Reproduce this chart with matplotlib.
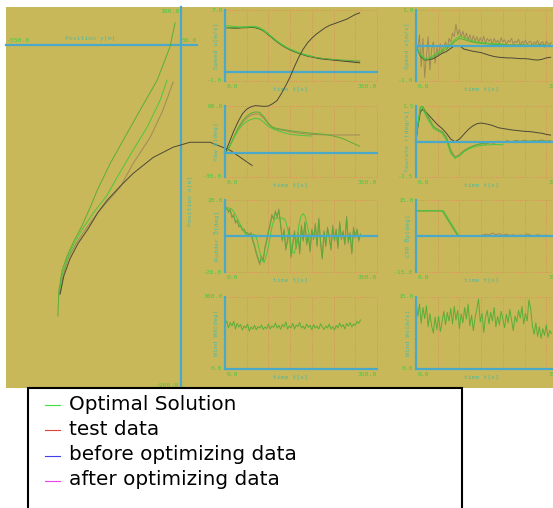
import matplotlib.pyplot as plt
from matplotlib.patches import Rectangle
from matplotlib.lines import Line2D

BG = '#C8B85A'
TEAL = '#4AA8C8'
GRID = '#E0885A'
NUM = '#46C846'
LAB = '#52B8A0'
C_OPT = '#4CC640'
C_TEST = '#A08A58'
C_BEFORE = '#4C4838'
C_AFTER = '#5AAE38'

# trajectory, Position y[m] (horizontal) / Position x[m] (vertical)
traj_opt_y = [-384, -374, -358, -336, -311, -270, -233, -201, -151, -107, -66, -44]
traj_opt_x = [-658, -605, -561, -521, -484, -434, -395, -347, -276, -216, -145, -92]
traj_after_y = [-387, -384, -374, -358, -336, -311, -283, -264, -223, -182, -129, -75, -35, -19]
traj_after_x = [-711, -645, -592, -553, -513, -474, -421, -382, -311, -250, -171, -92, -5, 58]
traj_test_y = [-380, -371, -355, -330, -299, -261, -223, -192, -151, -97, -57, -25]
traj_test_x = [-653, -605, -561, -521, -482, -439, -403, -374, -311, -242, -171, -97]
traj_before_y = [-380, -368, -349, -324, -292, -261, -233, -192, -151, -88, -25, 28, 91, 154, 223]
traj_before_x = [-653, -605, -561, -521, -482, -439, -408, -371, -337, -295, -268, -255, -255, -276, -316]

t10 = list(range(0, 320, 10))
t10_opt = list(range(0, 210, 10))
t4 = list(range(0, 316, 4))

# speed u [m/s]
u_opt = [5.25, 5.2, 5.15, 5.1, 5.1, 5.1, 5.15, 5.15, 5.0, 4.7, 4.3, 3.9, 3.5, 3.15, 2.85, 2.6,
         2.4, 2.2, 2.05, 1.9, 1.8]
u_test = [5.0, 5.0, 5.0, 5.0, 5.05, 5.1, 5.15, 5.1, 4.95, 4.7, 4.3, 3.85, 3.45, 3.1, 2.8, 2.55,
          2.35, 2.15, 2.0, 1.85, 1.75, 1.65, 1.55, 1.5, 1.45, 1.4, 1.35, 1.3, 1.25, 1.2, 1.18, 1.15]
u_before = [5.0, 5.0, 4.95, 4.95, 5.0, 5.0, 5.05, 5.0, 4.85, 4.6, 4.2, 3.8, 3.4, 3.05, 2.75, 2.5,
            2.3, 2.1, 1.95, 1.8, 1.7, 1.6, 1.5, 1.45, 1.4, 1.35, 1.3, 1.25, 1.2, 1.15, 1.1, 1.05]
u_after = [5.05, 5.0, 5.0, 5.0, 5.05, 5.05, 5.1, 5.05, 4.9, 4.6, 4.25, 3.85, 3.45, 3.1, 2.8, 2.55,
           2.35, 2.15, 2.0, 1.85, 1.75, 1.65, 1.58, 1.52, 1.47, 1.43, 1.4, 1.36, 1.33, 1.3, 1.27, 1.25]

# yaw psi [deg]
yaw_opt = [0, 8, 19, 29, 36, 40.5, 43, 44.3, 43.5, 39, 34, 31, 29, 27, 25.5, 24.3, 23.5, 23, 22.5, 22.2, 22]
yaw_test = [0, 8, 20, 31, 39, 45, 48.5, 50, 49.5, 44, 37, 32, 30.5, 29.5, 28.5, 27.5, 26.5, 25.5, 25,
            24.5, 24, 23.7, 23.5, 23.4, 23.3, 23.3, 23.3, 23.3, 23.3, 23.3, 23.3, 23.3]
yaw_before = [0, 14, 28, 40, 50, 56, 59, 60.5, 60, 59.5, 60, 63, 67, 76, 86, 97, 110, 122, 132, 140,
              146, 151, 155, 159, 162, 164, 166, 168, 170, 173, 176, 178]
yaw_after = [0, 8, 20, 32, 41, 47, 51, 52.5, 52, 46, 38, 33, 31.5, 30.5, 29.5, 28.7, 28, 27.3, 26.6,
             26, 25.5, 25, 24.5, 24, 23, 22, 20.5, 19, 16.5, 14, 11.5, 9]

# rudder delta [deg]
t5_opt = list(range(0, 205, 5))
rud_opt = [15, 15.5, 15.5, 15, 13.5, 11.5, 9, 6.5, 4, 2, 0.5, 0, 0.3, 0.8, 0.5, -3, -9, -13.5, -14.8,
           -11, -6, 1, 7, 9.5, 10, 10, 10, 9.8, 8, 3, -2, -9, -9.5, -4, 6, 11, 12.5, 10.5, 5, 0, -2]
rud_test = [14, 16, 13, 15, 10, 12, 7, 9, 5, 6, 3, 4, 1, 2, 0, 2, -3, -6, -10, -13, -16, -11, -14, -6,
            -2, 3, 7, 12, 9, 14, 10, 15, 6, -3, 4, -8, -2, 5, -12, -4, 3, -7, 2, -10, 6, -3, 8, -5,
            1, -9, 4, -2, 7, -6, 10, -4, -13, 3, -6, 5, -1, -8, 6, -3, 4, -7, 8, -2, 3, -5, 11, -4,
            2, -10, 5, -1, 4, -3, 1]
rud_after = [15, 15, 14, 14, 11, 11, 8, 8, 6, 5, 4, 3, 2, 1, 1, 1, -2, -5, -9, -12, -15, -12, -13, -7,
             -3, 2, 6, 11, 10, 13, 11, 14, 7, -2, 3, -7, -3, 4, -11, -5, 2, -6, 1, -9, 5, -2, 7, -4,
             0, -8, 3, -1, 6, -5, 9, -3, -12, 2, -5, 4, 0, -7, 5, -2, 3, -6, 7, -1, 2, -4, 10, -3,
             1, -9, 4, 0, 3, -2, 1]

# wind direction Wd [deg]
wd = [225, 240, 205, 232, 215, 238, 200, 228, 210, 222, 195, 215, 205, 225, 190, 210, 200, 218, 196,
      212, 205, 220, 198, 210, 202, 225, 200, 215, 208, 230, 205, 218, 198, 222, 210, 235, 200, 215,
      206, 228, 200, 220, 212, 232, 205, 215, 200, 225, 208, 218, 196, 222, 205, 214, 200, 226, 210,
      198, 215, 205, 224, 200, 212, 195, 218, 205, 230, 210, 222, 200, 228, 215, 232, 210, 225, 218,
      238, 228, 245]

# speed v [m/s]
v_opt = [0, -0.25, -0.37, -0.35, -0.28, -0.2, -0.12, -0.04, 0.05, 0.17, 0.26, 0.22, 0.17, 0.13, 0.1,
         0.08, 0.07, 0.06, 0.05, 0.05, 0.04]
v_before = [0, -0.3, -0.41, -0.4, -0.37, -0.3, -0.22, -0.17, -0.08, 0.0, 0.0, -0.1, -0.13, -0.16,
            -0.18, -0.2, -0.24, -0.28, -0.31, -0.33, -0.34, -0.35, -0.35, -0.36, -0.37, -0.37, -0.38,
            -0.4, -0.41, -0.39, -0.35, -0.33]
v_after = [0, -0.28, -0.4, -0.38, -0.32, -0.25, -0.18, -0.1, 0.0, 0.12, 0.2, 0.17, 0.13, 0.1, 0.07,
           0.06, 0.05, 0.04, 0.03, 0.03, 0.03, 0.02, 0.02, 0.02, 0.02, 0.02, 0.01, 0.01, 0.02, 0.02,
           0.01, 0.01]
v_test = [0.0, -0.1, 0.3, -0.6, 0.2, -0.9, -0.3, 0.25, -0.7, -0.1, 0.1, -0.5, -0.05, -0.3, 0.05, -0.2,
          -0.05, 0.1, -0.1, 0.2, 0.1, 0.35, 0.25, 0.6, 0.3, 0.45, 0.25, 0.4, 0.2, 0.35, 0.15, 0.3, 0.1,
          0.28, 0.12, 0.25, 0.08, 0.22, 0.1, 0.26, 0.05, 0.2, 0.12, 0.18, 0.03, 0.2, 0.08, 0.15, 0.05,
          0.22, 0.1, 0.16, 0.02, 0.14, 0.1, 0.2, 0.04, 0.12, 0.08, 0.18, 0.0, 0.12, 0.06, 0.15, 0.04,
          0.1, 0.12, -0.02, 0.1, 0.05, 0.14, 0.02, 0.08, 0.1, -0.05, 0.12, 0.06, 0.04, 0.08]

# yaw rate r [deg/s]
t_r = [0, 5, 10, 15, 20, 25, 30] + list(range(40, 320, 10))
r_before = [0.05, 0.7, 1.25, 1.35, 1.3, 1.2, 1.1, 0.9, 0.7, 0.55, 0.35, 0.1, -0.01, 0.1, 0.3, 0.5,
            0.65, 0.75, 0.78, 0.75, 0.71, 0.65, 0.58, 0.55, 0.52, 0.49, 0.47, 0.45, 0.43, 0.42, 0.4,
            0.37, 0.35, 0.3, 0.27]
r_test = [0.05, 0.8, 1.35, 1.4, 1.25, 1.05, 0.95, 0.62, 0.5, 0.42, 0.2, -0.35, -0.65, -0.55, -0.38,
          -0.28, -0.2, -0.14, -0.08, -0.12, -0.04, -0.08, 0.02, -0.05, 0.04, -0.02, 0.05, 0.0, 0.06,
          -0.03, 0.04, 0.02, 0.07, -0.01, 0.03]
r_after = [0.05, 0.85, 1.45, 1.5, 1.35, 1.15, 1.0, 0.65, 0.5, 0.42, 0.15, -0.45, -0.7, -0.6, -0.42,
           -0.3, -0.2, -0.14, -0.1, -0.07, -0.05, -0.03, -0.02, -0.01, 0.0, 0.0, 0.01, 0.01, 0.01,
           0.02, 0.02, 0.02, 0.02, 0.02, 0.02]
r_opt = [0.05, 0.8, 1.4, 1.45, 1.2, 1.0, 0.85, 0.55, 0.45, 0.35, 0.05, -0.5, -0.7, -0.6, -0.45, -0.33,
         -0.25, -0.2, -0.17, -0.15, -0.14, -0.13, -0.13, -0.14]

# CPP theta p [deg]
t_cpp_opt = [0, 63, 99, 200]
cpp_opt = [10.5, 10.5, 0, 0]
t_cpp_after = [0, 60, 97, 312]
cpp_after = [10.5, 10.5, 0, 0]
t8 = list(range(0, 316, 8))
cpp_test = [10.5, 10.5, 10.5, 10.5, 10.5, 10.5, 10.5, 10.5, 10.2, 7.2, 4.8, 2.4, 0.2, 0, 0, 0, 0, 0,
            0.1, 0.3, 0.8, 0.5, 1.2, 0.6, 1.0, 0.3, 0.8, 0.2, 0.5, 0.1, 0.4, 0.2, 0.9, 0.3, 0.1, 0.5,
            0.2, 0.3, 0.1, 0.2]

# wind speed Wv [m/s]
wv = [14.0, 11.0, 13.5, 9.5, 12.8, 10.5, 13.2, 8.8, 11.5, 9.0, 7.5, 10.8, 8.2, 11.0, 7.8, 9.8, 12.0,
      9.2, 11.8, 10.0, 12.6, 9.4, 13.0, 10.2, 12.2, 8.4, 11.5, 9.6, 12.8, 10.4, 13.5, 9.0, 11.2, 8.0,
      10.6, 12.4, 14.6, 9.8, 11.6, 7.6, 10.8, 12.2, 9.4, 11.8, 10.0, 12.8, 8.8, 11.0, 9.2, 12.0, 10.4,
      8.6, 11.4, 9.6, 12.4, 10.2, 8.0, 11.0, 9.8, 12.2, 10.6, 13.0, 9.4, 11.6, 10.0, 14.4, 12.6, 9.0,
      7.2, 9.6, 6.8, 8.8, 6.4, 8.4, 7.0, 9.2, 6.6, 8.0, 7.4]

legend_labels = ['Optimal Solution', 'test data', 'before optimizing data', 'after optimizing data']
legend_colors = ['#40E040', '#E04040', '#4040F0', '#F040F0']

W, H = 553, 508
fig = plt.figure(figsize=(W / 100, H / 100), dpi=100)
fig.patch.set_facecolor('white')
fig.patches.append(Rectangle((6 / W, 1 - 388 / H), 547 / W, 381 / H, transform=fig.transFigure,
                             facecolor=BG, edgecolor='none', zorder=-5))

small = dict(family='DejaVu Sans Mono', fontsize=4.6)


def fx(px):
    return px / W


def fy(py):
    return 1 - py / H


def panel(x0, ytop, ybot, ymin, ymax, ylab, ttop, tbot):
    ax = fig.add_axes([fx(x0), fy(ybot), fx(152), (ybot - ytop) / H])
    ax.set_xlim(0, 350)
    ax.set_ylim(ymin, ymax)
    ax.axis('off')
    for x in range(50, 351, 50):
        ax.plot([x, x], [ymin, ymax], color=GRID, ls=':', lw=0.6, clip_on=False)
    ax.plot([0, 350], [ymax, ymax], color=GRID, ls=':', lw=0.6, clip_on=False)
    ax.plot([0, 350], [ymin, ymin], color=GRID, ls=':', lw=0.6, clip_on=False)
    y0 = 0 if ymin < 0 else ymin
    ax.plot([0, 350], [y0, y0], color=TEAL, lw=1.6, clip_on=False, zorder=5)
    ax.plot([0, 0], [ymin, ymax], color=TEAL, lw=1.6, clip_on=False, zorder=5)
    ax.text(-0.015, 1, ttop, transform=ax.transAxes, ha='right', va='center', color=NUM, **small)
    ax.text(-0.015, 0, tbot, transform=ax.transAxes, ha='right', va='center', color=NUM, **small)
    ax.text(0.01, -0.04, '0.0', transform=ax.transAxes, ha='left', va='top', color=NUM, **small)
    ax.text(1.0, -0.04, '350.0', transform=ax.transAxes, ha='right', va='top', color=NUM, **small)
    ax.text(0.43, -0.11, 'time t[s]', transform=ax.transAxes, ha='center', va='center', color=LAB, **small)
    ax.text(-0.055, 0.5, ylab, transform=ax.transAxes, ha='center', va='center', rotation=90,
            color=LAB, **small)
    return ax


# trajectory
ax = fig.add_axes([fx(6), fy(388), fx(191), 381 / H])
ax.set_xlim(-550, 50)
ax.set_ylim(-900, 100)
ax.axis('off')
ax.plot([-550, 50], [0, 0], color=TEAL, lw=1.6, clip_on=False)
ax.plot([0, 0], [-900, 100], color=TEAL, lw=1.6, clip_on=False)
ax.text(-548, 6, '-550.0', ha='left', va='bottom', color=NUM, **small)
ax.text(50, 6, '50.0', ha='right', va='bottom', color=NUM, **small)
ax.text(-286, 18, 'Position y[m]', ha='center', va='center', color=LAB, **small)
ax.text(-6, 89, '100.0', ha='right', va='center', color=NUM, **small)
ax.text(-6, -893, '-900.0', ha='right', va='center', color=NUM, **small)
ax.text(28, -410, 'Position x[m]', ha='center', va='center', rotation=90, color=LAB, **small)
ax.plot(traj_test_y, traj_test_x, color=C_TEST, lw=0.7)
ax.plot(traj_opt_y, traj_opt_x, color=C_OPT, lw=0.7)
ax.plot(traj_after_y, traj_after_x, color=C_AFTER, lw=0.7)
ax.plot(traj_before_y, traj_before_x, color=C_BEFORE, lw=0.7, clip_on=False)

L, R = 225, 416
ax = panel(L, 10, 81, -1, 7, 'Speed u[m/s]', '7.0', '-1.0')
ax.plot(t10, u_test, color=C_TEST, lw=0.7)
ax.plot(t10, u_before, color=C_BEFORE, lw=0.7)
ax.plot(t10, u_after, color=C_AFTER, lw=0.7)
ax.plot(t10_opt, u_opt, color=C_OPT, lw=0.7)

ax = panel(L, 106, 177, -30, 60, 'Yaw ψ[deg]', '60.0', '-30.0')
ax.plot(t10, yaw_test, color=C_TEST, lw=0.7)
ax.plot(t10, yaw_after, color=C_AFTER, lw=0.7)
ax.plot(t10_opt, yaw_opt, color=C_OPT, lw=0.7)
ax.plot(t10, yaw_before, color=C_BEFORE, lw=0.7, clip_on=False)

ax = panel(L, 200, 272, -20, 20, 'Rudder δ[deg]', '20.0', '-20.0')
ax.plot(t4, rud_test, color=C_TEST, lw=0.7)
ax.plot(t4, rud_after, color=C_AFTER, lw=0.7)
ax.plot(t5_opt, rud_opt, color=C_OPT, lw=0.7)

ax = panel(L, 297, 369, 0, 360, 'Wind Wd[deg]', '360.0', '0.0')
ax.plot(t4, wd, color=C_AFTER, lw=0.7)

ax = panel(R, 10, 81, -1, 1, 'Speed v[m/s]', '1.0', '-1.0')
ax.plot(t4, v_test, color=C_TEST, lw=0.7)
ax.plot(t10, v_before, color=C_BEFORE, lw=0.7)
ax.plot(t10, v_after, color=C_AFTER, lw=0.7)
ax.plot(t10_opt, v_opt, color=C_OPT, lw=0.7)

ax = panel(R, 106, 177, -1.5, 1.5, 'Yawrate r[deg/s]', '1.5', '-1.5')
ax.plot(t_r, r_test, color=C_TEST, lw=0.7)
ax.plot(t_r, r_before, color=C_BEFORE, lw=0.7)
ax.plot(t_r, r_after, color=C_AFTER, lw=0.7)
ax.plot(t_r[:len(r_opt)], r_opt, color=C_OPT, lw=0.7)

ax = panel(R, 200, 272, -15, 15, 'CPP θp[deg]', '15.0', '-15.0')
ax.plot(t8, cpp_test, color=C_TEST, lw=0.7)
ax.plot(t_cpp_after, cpp_after, color=C_AFTER, lw=0.7)
ax.plot(t_cpp_opt, cpp_opt, color=C_OPT, lw=0.7)

ax = panel(R, 297, 369, 0, 15, 'Wind Wv[m/s]', '15.0', '0.0')
ax.plot(t4, wv, color=C_AFTER, lw=0.7)

# legend box
fig.patches.append(Rectangle((fx(28), fy(530)), fx(434), 142 / H, transform=fig.transFigure,
                             facecolor='white', edgecolor='black', lw=1.5, zorder=10))
for i, (lab, col) in enumerate(zip(legend_labels, legend_colors)):
    yy = 405 + 25.3 * i
    fig.lines.append(Line2D([fx(45), fx(60)], [fy(yy), fy(yy)], transform=fig.transFigure,
                            color=col, lw=0.8, zorder=11))
    fig.text(fx(69), fy(yy - 1), lab, ha='left', va='center', fontsize=14.4, color='black', zorder=11)

fig.savefig('out.png', dpi=100, facecolor='white')
